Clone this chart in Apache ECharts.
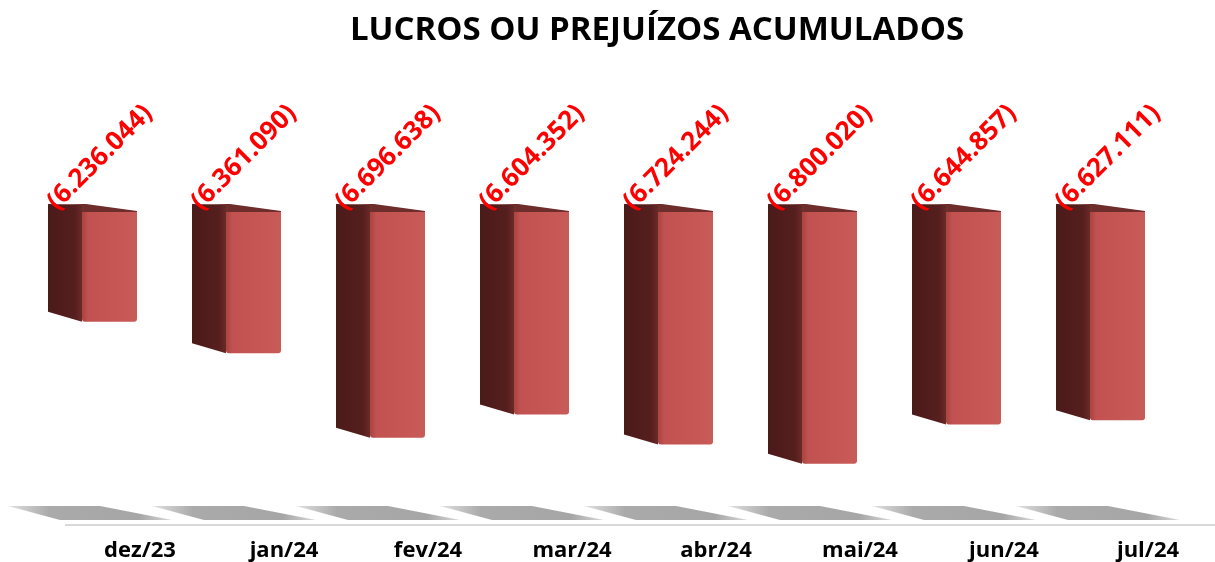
<!DOCTYPE html>
<html>
<head>
<meta charset="utf-8">
<script src="https://cdn.jsdelivr.net/npm/echarts@6/dist/echarts.min.js"></script>
<style>html,body{margin:0;background:#fff}#main{width:1215px;height:562px}</style>
</head>
<body>
<div id="main"></div>
<script>
// dados
var meses = ['dez/23', 'jan/24', 'fev/24', 'mar/24', 'abr/24', 'mai/24', 'jun/24', 'jul/24'];
var resultado = [-6236044, -6361090, -6696638, -6604352, -6724244, -6800020, -6644857, -6627111];
var eixoMin = -7000000;
var eixoMax = -5800000;

function fmt(v) {
    var s = Math.abs(v).toString().replace(/\B(?=(\d{3})+(?!\d))/g, '.');
    return v < 0 ? '(' + s + ')' : s;
}

var myChart = echarts.init(document.getElementById('main'));

// barra "3D": lado escuro + frente + topo + rótulo
function barra(params, api) {
    var i = api.value(0);
    var v = api.value(1);
    var fundo = api.coord([i, v]);
    var topo = api.coord([i, eixoMax]);
    var c = fundo[0], yt = topo[1], yb = fundo[1];
    var L = c - 44, M = c - 10, R = c + 45;
    return {
        type: 'group',
        children: [
            {
                type: 'polygon',
                shape: {points: [[L, yt - 8], [M, yt - 7], [M, yb], [L, yb - 10]]},
                style: {fill: new echarts.graphic.LinearGradient(0, 0, 1, 0, [
                    {offset: 0, color: '#4a1a19'}, {offset: 0.8, color: '#561f1e'}, {offset: 1, color: '#6a2a28'}
                ])}
            },
            {
                type: 'rect',
                shape: {x: M, y: yt, width: R - M, height: yb - yt, r: [0, 0, 3, 3]},
                style: {fill: new echarts.graphic.LinearGradient(0, 0, 1, 0, [
                    {offset: 0, color: '#a84441'}, {offset: 0.12, color: '#c2524f'}, {offset: 1, color: '#c85a57'}
                ])}
            },
            {
                type: 'polygon',
                shape: {points: [[L, yt - 8], [M + 4, yt - 8], [R, yt - 1], [R, yt], [M, yt], [M, yt - 7]]},
                style: {fill: '#6e2c2a'}
            },
            {
                type: 'text',
                x: L + 13,
                y: yt + 3,
                rotation: Math.PI / 4,
                style: {
                    text: fmt(v),
                    fill: '#ff0000',
                    font: 'bold 26px "Open Sans"',
                    align: 'left',
                    verticalAlign: 'bottom'
                }
            }
        ]
    };
}

// faixas cinzas do piso
function piso(params, api) {
    var i = api.value(0);
    var b = api.coord([i, eixoMin]);
    var c = b[0], y = b[1];
    return {
        type: 'polygon',
        shape: {points: [[c - 84, y - 8], [c + 8, y - 8], [c + 80, y + 6], [c - 32, y + 6]]},
        style: {fill: new echarts.graphic.LinearGradient(0, 0, 1, 0, [
            {offset: 0, color: '#e0e0e0'}, {offset: 0.25, color: '#aaaaaa'}, {offset: 0.8, color: '#a6a6a6'}, {offset: 1, color: '#d8d8d8'}
        ])}
    };
}

var option = {
    animation: false,
    title: {
        text: 'LUCROS OU PREJUÍZOS ACUMULADOS',
        left: 652,
        top: 9,
        textAlign: 'center',
        textStyle: {fontFamily: 'Open Sans', fontWeight: 'bold', fontSize: 33, color: '#000'}
    },
    grid: {left: 20, right: 43, top: 212, bottom: 46},
    xAxis: {
        type: 'category',
        data: meses,
        axisLine: {show: false},
        axisTick: {show: false},
        axisLabel: {
            margin: 26,
            padding: [0, 0, 0, 96],
            fontFamily: 'Open Sans',
            fontWeight: 'bold',
            fontSize: 22,
            color: '#000'
        }
    },
    yAxis: {
        type: 'value',
        min: eixoMin,
        max: eixoMax,
        show: false,
        splitLine: {show: false}
    },
    graphic: [{
        type: 'line',
        shape: {x1: 65, y1: 525, x2: 1215, y2: 525},
        style: {stroke: '#d9d9d9', lineWidth: 2}
    }],
    series: [
        {
            type: 'custom',
            renderItem: piso,
            encode: {x: 0},
            data: meses.map(function (m, i) { return [i]; }),
            z: 1
        },
        {
            type: 'custom',
            renderItem: barra,
            encode: {x: 0, y: 1},
            data: resultado.map(function (v, i) { return [i, v]; }),
            z: 2
        }
    ]
};

myChart.setOption(option);
</script>
</body>
</html>
